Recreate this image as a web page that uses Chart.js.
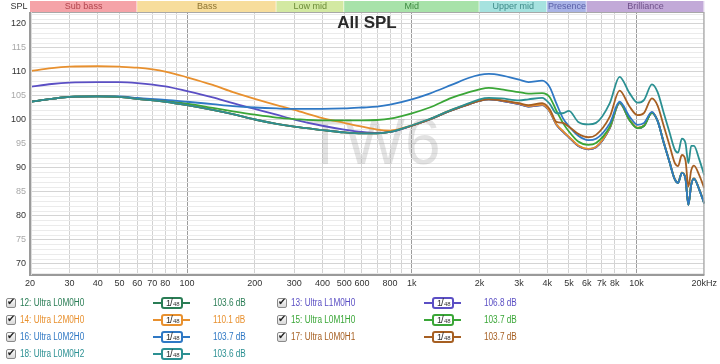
<!DOCTYPE html>
<html>
<head>
<meta charset="utf-8">
<script src="https://cdn.jsdelivr.net/npm/chart.js@4.4.0/dist/chart.umd.min.js"></script>
<style>
  body { margin: 0; background: #fff; width: 720px; height: 364px; overflow: hidden; }
  #wrap { position: absolute; left: 0; top: 0; width: 720px; height: 292px; }
  #legend { position: absolute; left: 0; top: 0; width: 720px; height: 364px; }
  .lbl, .val { position: absolute; font-size: 10px; line-height: 12px; white-space: nowrap; transform-origin: left center; }
  .sq .lbl, .sq .val { transform: scaleX(0.82); }
  .box { position: absolute; width: 8px; height: 8px; border: 1px solid #8a8a8a; border-radius: 2px;
         background: linear-gradient(#fdfdfd, #d8d8d8); }
  .box span { position: absolute; left: 0px; top: -3px; font: bold 10px "DejaVu Sans", sans-serif; color: #222; }
  .wire { position: absolute; height: 2px; width: 37px; }
  .res { position: absolute; width: 18px; height: 8px; border: 2px solid; border-radius: 3px; background: #fff;
         font-family: "Liberation Sans", sans-serif; color: #333; }
  .res i { position: absolute; font-style: normal; }
</style>
</head>
<body>
<div id="wrap"><canvas id="fr" width="720" height="292"></canvas></div>
<div id="legend"></div>
<script>
const freqs = [20, 25, 30, 40, 50, 60, 80, 100,
  130, 160, 200, 250, 300, 400, 500, 600, 700, 800,
  1000, 1200, 1500, 1800, 2000, 2200, 2500, 3000,
  3300, 3800, 4100, 4400, 4700, 5000, 5500, 6100, 6600, 7600,
  8400, 9300, 10100, 10800, 11700, 12400, 13200, 14000,
  14800, 15300, 15900, 16500, 17000, 17500, 18000, 19000, 20000];

// 12: Ultra L0M0H0
const ultraL0M0H0 = [103.8, 104.4, 104.8, 104.9, 104.8, 104.4, 103.8, 103.1,
  102.1, 101.2, 100.1, 99.2, 98.6, 97.9, 97.4, 97.2, 97.2, 97.5,
  98.8, 100.1, 102.0, 103.3, 104.0, 104.3, 104.0, 103.3,
  102.8, 103.1, 101.8, 99.0, 97.6, 96.4, 94.6, 93.9, 94.3, 98.3,
  103.5, 100.0, 98.3, 98.8, 101.5, 99.8, 95.3, 91.3,
  87.6, 86.9, 89.0, 87.8, 82.3, 86.5, 87.8, 85.5, 82.6];
// 13: Ultra L1M0H0
const ultraL1M0H0 = [106.9, 107.5, 107.8, 107.9, 107.9, 107.7, 107.0, 106.0,
  104.7, 103.5, 102.3, 101.1, 100.1, 98.8, 98.0, 97.5, 97.3, 97.5,
  98.8, 100.1, 102.0, 103.3, 104.0, 104.3, 104.0, 103.3,
  102.8, 103.1, 101.8, 99.0, 97.6, 96.4, 94.6, 93.9, 94.3, 98.3,
  103.5, 100.0, 98.3, 98.8, 101.5, 99.8, 95.3, 91.3,
  87.6, 86.9, 89.0, 87.8, 82.3, 86.5, 87.8, 85.5, 82.6];
// 14: Ultra L2M0H0
const ultraL2M0H0 = [110.2, 110.8, 111.1, 111.2, 111.1, 110.9, 110.1, 108.9,
  107.3, 105.8, 104.4, 103.1, 102.1, 100.4, 99.4, 98.6, 98.0, 97.8,
  98.9, 100.2, 102.1, 103.4, 104.1, 104.4, 104.1, 103.4,
  102.9, 103.2, 101.9, 99.1, 97.7, 96.5, 94.7, 94.0, 94.4, 98.4,
  103.6, 100.1, 98.4, 98.9, 101.6, 99.9, 95.4, 91.4,
  87.7, 87.0, 89.1, 87.9, 82.4, 86.6, 87.9, 85.6, 82.7];
// 15: Ultra L0M1H0
const ultraL0M1H0 = [103.8, 104.4, 104.8, 104.9, 104.8, 104.5, 104.0, 103.4,
  102.5, 101.8, 101.1, 100.5, 100.2, 99.9, 99.9, 99.9, 100.0, 100.3,
  101.4, 102.6, 104.6, 105.8, 106.4, 106.7, 106.4, 105.8,
  105.5, 105.6, 104.8, 101.9, 99.4, 97.6, 95.5, 94.8, 95.2, 98.6,
  103.6, 100.0, 98.3, 98.8, 101.5, 99.8, 95.3, 91.3,
  87.6, 86.9, 89.0, 87.8, 82.3, 86.5, 87.8, 85.5, 82.6];
// 16: Ultra L0M2H0
const ultraL0M2H0 = [103.8, 104.4, 104.8, 104.9, 104.9, 104.6, 104.2, 103.8,
  103.3, 102.9, 102.6, 102.4, 102.3, 102.3, 102.4, 102.6, 102.8, 103.2,
  104.3, 105.5, 107.3, 108.8, 109.4, 109.6, 109.3, 108.4,
  107.9, 108.2, 106.9, 103.4, 100.4, 98.7, 96.7, 95.8, 96.1, 99.3,
  103.8, 100.7, 99.0, 99.4, 101.7, 99.8, 95.3, 91.3,
  87.6, 86.9, 89.0, 87.8, 82.3, 86.5, 87.8, 85.5, 82.6];
// 17: Ultra L0M0H1
const ultraL0M0H1 = [103.8, 104.4, 104.8, 104.9, 104.8, 104.4, 103.8, 103.1,
  102.1, 101.2, 100.1, 99.2, 98.6, 97.9, 97.4, 97.2, 97.2, 97.5,
  98.8, 100.1, 102.0, 103.3, 104.0, 104.3, 104.1, 103.5,
  103.1, 103.5, 102.3, 99.6, 99.4, 98.6, 97.1, 96.4, 96.9, 100.7,
  106.1, 102.8, 101.0, 101.5, 104.5, 103.0, 98.8, 94.8,
  91.0, 90.4, 92.7, 91.6, 86.1, 89.5, 90.5, 88.5, 85.8];
// 18: Ultra L0M0H2
const ultraL0M0H2 = [103.8, 104.4, 104.8, 104.9, 104.8, 104.4, 103.8, 103.1,
  102.1, 101.2, 100.1, 99.2, 98.6, 97.9, 97.4, 97.2, 97.2, 97.5,
  98.9, 100.2, 102.1, 103.5, 104.3, 104.6, 104.5, 104.1,
  104.3, 104.6, 103.4, 101.4, 101.4, 101.9, 99.6, 99.1, 99.4, 103.5,
  109.0, 105.6, 103.6, 104.2, 107.4, 105.8, 101.5, 97.5,
  93.8, 93.2, 96.1, 95.2, 91.0, 94.6, 94.6, 91.8, 88.5];

const series = [ultraL0M0H0, ultraL1M0H0, ultraL2M0H0, ultraL0M1H0, ultraL0M2H0, ultraL0M0H1, ultraL0M0H2];
const seriesNames = ['12: Ultra L0M0H0', '13: Ultra L1M0H0', '14: Ultra L2M0H0', '15: Ultra L0M1H0',
  '16: Ultra L0M2H0', '17: Ultra L0M0H1', '18: Ultra L0M0H2'];
const seriesLevels = ['103.6 dB', '106.8 dB', '110.1 dB', '103.7 dB', '103.7 dB', '103.7 dB', '103.6 dB'];
const seriesColors = ['#2a7d55', '#5b4fc4', '#e8902e', '#3aa637', '#2f78c4', '#a65f22', '#2b9092'];

const gridFreqs = [20, 30, 40, 50, 60, 70, 80, 90, 100, 200, 300, 400, 500, 600, 700, 800, 900,
  1000, 2000, 3000, 4000, 5000, 6000, 7000, 8000, 9000, 10000, 20000];
const freqLabels = { 20: '20', 30: '30', 40: '40', 50: '50', 60: '60', 70: '70', 80: '80', 100: '100',
  200: '200', 300: '300', 400: '400', 500: '500', 600: '600', 800: '800', 1000: '1k',
  2000: '2k', 3000: '3k', 4000: '4k', 5000: '5k', 6000: '6k', 7000: '7k', 8000: '8k', 10000: '10k', 20000: '20kHz' };

const bandNames = ['Sub bass', 'Bass', 'Low mid', 'Mid', 'Upper mid', 'Presence', 'Brilliance'];
const bandEdges = [20, 60, 250, 500, 2000, 4000, 6000, 20000];
const bandFills = ['#f5a3a8', '#f7dd9c', '#d3e9a2', '#a8e2a9', '#a6e2df', '#aab4e6', '#c2a9d8'];
const bandInk = ['#b0444c', '#8d7432', '#6a8a36', '#3e8a40', '#3e8a88', '#5a5fa8', '#6f5089'];

const yTicks = [];
for (let v = 68; v <= 122; v++) yTicks.push(v);

// narrow font if the box has one, else squeeze the regular one
const hasNarrow = (() => {
  const c = document.createElement('canvas').getContext('2d');
  c.font = '20px "Liberation Sans Narrow", monospace';
  const a = c.measureText('Sub bass 12345').width;
  c.font = '20px monospace';
  return a !== c.measureText('Sub bass 12345').width;
})();
const fam = hasNarrow ? '"Liberation Sans Narrow", "Liberation Sans", sans-serif' : '"Liberation Sans", sans-serif';
const small = hasNarrow ? 10 : 9;

const decor = {
  id: 'decor',
  beforeDatasetsDraw(chart) {
    const { ctx } = chart;
    ctx.save();
    ctx.font = '64px ' + fam;
    ctx.fillStyle = 'rgba(150,150,150,0.28)';
    ctx.textAlign = 'center';
    ctx.textBaseline = 'middle';
    ctx.fillText('TW6', 373, 146);
    ctx.restore();
  },
  afterDraw(chart) {
    const { ctx, chartArea: a, scales: { x } } = chart;
    ctx.save();
    // frequency bands
    for (let k = 0; k < bandNames.length; k++) {
      const x1 = x.getPixelForValue(bandEdges[k]);
      const x2 = x.getPixelForValue(bandEdges[k + 1]);
      ctx.fillStyle = bandFills[k];
      ctx.fillRect(x1, 1, x2 - x1, 11);
      ctx.fillStyle = 'rgba(255,255,255,0.6)';
      ctx.fillRect(x2 - 1, 1, 1, 11);
      ctx.fillStyle = bandInk[k];
      ctx.font = small + 'px ' + fam;
      ctx.textAlign = 'center';
      ctx.textBaseline = 'middle';
      ctx.fillText(bandNames[k], (x1 + x2) / 2, 6.5);
    }
    // plot frame
    ctx.strokeStyle = '#a8a8a8';
    ctx.lineWidth = 1;
    ctx.strokeRect(a.left + 0.5, a.top + 0.5, a.right - a.left - 1, a.bottom - a.top);
    ctx.fillStyle = '#9a9a9a';
    ctx.fillRect(a.left - 1, a.top, 2, a.bottom - a.top + 1);
    ctx.fillRect(a.left - 1, a.bottom - 1, a.right - a.left + 1, 2);
    ctx.fillStyle = '#dcdcdc';
    ctx.fillRect(a.left + 1, a.top, 1, a.bottom - a.top);
    // labels
    ctx.fillStyle = '#333';
    ctx.font = small + 'px ' + fam;
    ctx.textAlign = 'center';
    ctx.textBaseline = 'middle';
    ctx.fillText('SPL', 19, 6.5);
    ctx.fillStyle = '#2a2a2a';
    ctx.font = 'bold 17px "Liberation Sans", sans-serif';
    ctx.fillText('All SPL', 367, 23);
    ctx.restore();
  }
};

new Chart(document.getElementById('fr'), {
  type: 'line',
  data: {
    datasets: series.map((s, k) => ({
      label: seriesNames[k],
      data: freqs.map((f, j) => ({ x: f, y: s[j] })),
      borderColor: seriesColors[k],
      borderWidth: 1.8,
      pointRadius: 0,
      fill: false,
      cubicInterpolationMode: 'monotone',
      order: 10 - k
    }))
  },
  options: {
    responsive: false,
    animation: false,
    events: [],
    layout: { padding: { left: 0, right: 15, top: 12, bottom: 0 } },
    plugins: { legend: { display: false }, tooltip: { enabled: false } },
    scales: {
      x: {
        type: 'logarithmic',
        min: 20,
        max: 20000,
        afterBuildTicks: s => { s.ticks = gridFreqs.map(v => ({ value: v })); },
        afterFit: s => { s.height = 17; },
        ticks: {
          autoSkip: false, maxRotation: 0, minRotation: 0, padding: 3,
          color: '#333', font: { size: small, family: fam },
          callback: v => freqLabels[v] || ''
        },
        grid: {
          drawTicks: false,
          color: c => [100, 1000, 10000].includes(c.tick && c.tick.value) ? '#9c9c9c' : '#d2d2d2'
        },
        border: { display: false }
      },
      y: {
        min: 67.7,
        max: 122.5,
        afterBuildTicks: s => { s.ticks = yTicks.map(v => ({ value: v })); },
        afterFit: s => { s.width = 30; },
        ticks: {
          autoSkip: false,
          padding: 4,
          font: { size: small, family: fam },
          color: c => c.tick.value % 10 === 0 ? '#333' : '#a8a8a8',
          callback: v => (v % 5 === 0 && v >= 70 && v <= 120) ? String(v) : ''
        },
        grid: {
          drawTicks: false,
          color: c => c.tick.value % 5 === 0 ? '#d4d4d4' : '#ebebeb'
        },
        border: { display: false }
      }
    }
  },
  plugins: [decor]
});

// legend below the plot
const leg = document.getElementById('legend');
if (!hasNarrow) leg.classList.add('sq');
const rowY = [303, 320, 337, 353.5];
function put(cls, left, top, html, style) {
  const el = document.createElement('div');
  el.className = cls;
  el.style.left = left + 'px';
  el.style.top = top + 'px';
  if (style) Object.assign(el.style, style);
  el.innerHTML = html;
  leg.appendChild(el);
  return el;
}
seriesNames.forEach((name, k) => {
  const x0 = (k % 2) * 271;
  const cy = rowY[Math.floor(k / 2)];
  const col = seriesColors[k];
  put('box', x0 + 6, cy - 5, '<span>\u2714</span>');
  put('lbl', x0 + 20, cy - 6, name, { color: col, fontFamily: fam });
  put('wire', x0 + 153, cy - 1, '', { background: col });
  put('res', x0 + 161, cy - 6, '<i style="left:3px;top:-1px;font-size:9px">1</i><i style="left:7px;top:-2px;font-size:10px">/</i><i style="left:10px;top:2px;font-size:6px">48</i>', { borderColor: col });
  put('val', x0 + 213, cy - 6, seriesLevels[k], { color: col, fontFamily: fam });
});
</script>
</body>
</html>
